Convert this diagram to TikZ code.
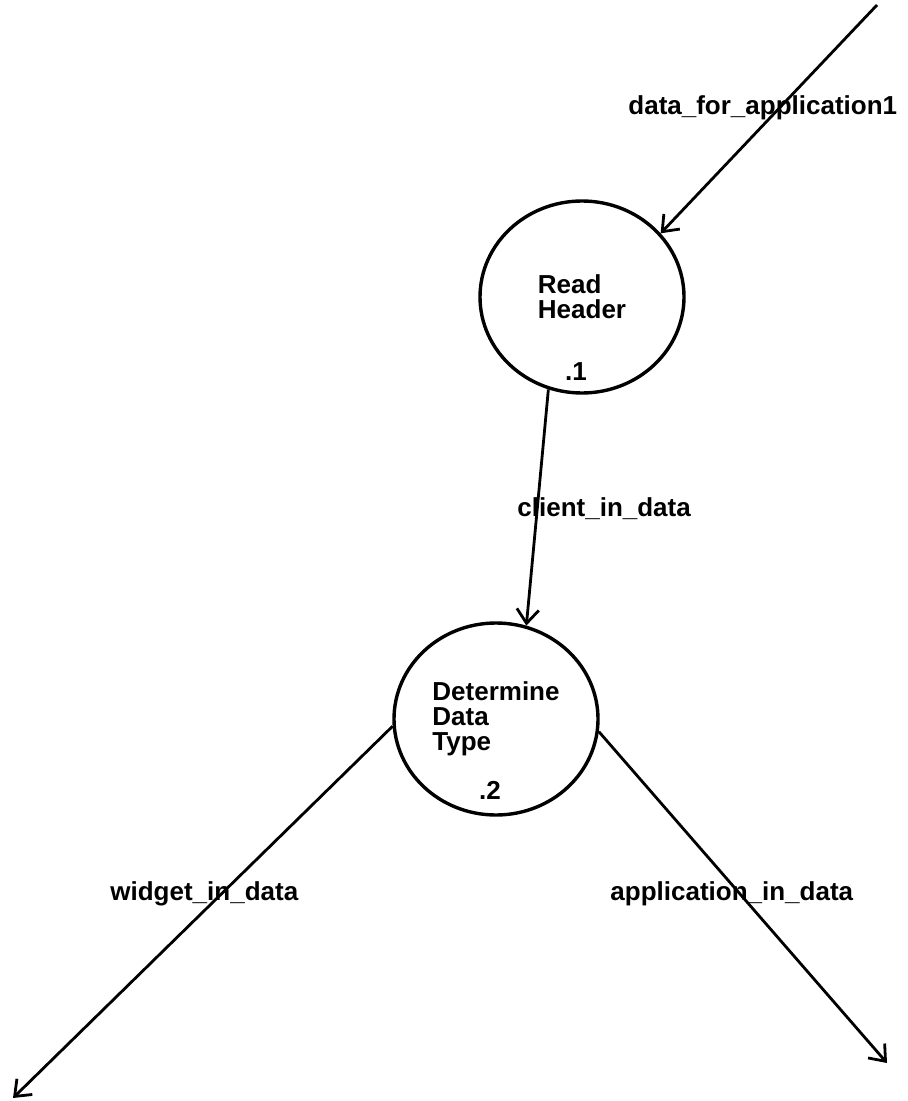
\documentclass[tikz,border=0pt]{standalone}
\usepackage{fontspec}
\setmainfont{Liberation Sans}
\usetikzlibrary{arrows.meta,positioning,shapes.geometric}

\begin{document}
\begin{tikzpicture}[
  x=0.5pt, y=-0.5pt,
  font=\bfseries\fontsize{13}{12.5}\selectfont,
  proc/.style={draw, ellipse, line width=1.7pt, minimum width=102pt, minimum height=96pt, inner sep=0pt, align=left},
  num/.style={inner sep=0pt},
  lbl/.style={inner sep=0pt, anchor=base west},
  flow/.style={-{Straight Barb[length=7pt,width=11pt]}, line width=1.4pt}
]
\useasboundingbox (0,0) rectangle (908,1101);

% processes
\node[proc] (rh) at (582,297) {Read\\Header};
\node[proc] (ddt) at (496,719) {Determine\\Data\\Type};
\node[num] (rhnum) at ([xshift=-3pt,yshift=11.5pt]rh.south) {.1};
\node[num] (ddtnum) at ([xshift=-3pt,yshift=13pt]ddt.south) {.2};

% free ends of the flows
\coordinate (src) at (877,5);
\coordinate (wout) at (13,1098);
\coordinate (aout) at (887,1063);

\draw[flow] (src) -- (rh.39);
\draw[flow] (rh.-110) -- (ddt.72);
\draw[flow] (ddt.184) -- (wout);
\draw[flow] (ddt.-7) -- (aout);

% flow labels
\node[lbl] (dfa) at (628,115) {data\_for\_application1};
\node[lbl] (cid) at (517,516) {client\_in\_data};
\node[lbl] (wid) at (110,900) {widget\_in\_data};
\node[lbl] (aid) at (610,900) {application\_in\_data};

\end{tikzpicture}
\end{document}
